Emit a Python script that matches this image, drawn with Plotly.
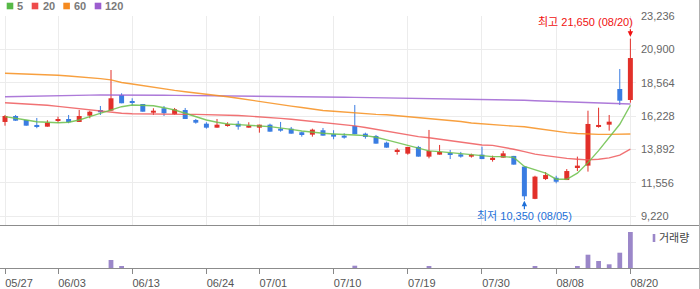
import plotly.graph_objects as go

# ---------------- data ----------------
dates = ["05/27", "05/28", "05/29", "05/30", "05/31", "06/03", "06/04", "06/05", "06/07", "06/10",
         "06/11", "06/12", "06/13", "06/14", "06/17", "06/18", "06/19", "06/20", "06/21", "06/24",
         "06/25", "06/26", "06/27", "06/28", "07/01", "07/02", "07/03", "07/04", "07/05", "07/08",
         "07/09", "07/10", "07/11", "07/12", "07/15", "07/16", "07/17", "07/18", "07/19", "07/22",
         "07/23", "07/24", "07/25", "07/26", "07/29", "07/30", "07/31", "08/01", "08/02", "08/05",
         "08/06", "08/07", "08/08", "08/09", "08/12", "08/13", "08/14", "08/16", "08/19", "08/20"]

opens = [15810, 16230, 15950, 15600, 15480, 15900, 16020, 15810, 16250, 16650,
         16600, 17700, 17230, 17070, 16460, 16770, 16350, 16650, 15950, 15690,
         15410, 15550, 15690, 15410, 15410, 15620, 15340, 15340, 15090, 14920,
         15230, 14950, 14850, 15530, 14990, 14830, 14360, 13770, 13590, 14060,
         13380, 13520, 13610, 13540, 13380, 13520, 13210, 13310, 13430, 12680,
         10420, 11810, 11900, 11740, 12610, 12750, 15460, 15620, 18120, 17350]
highs = [16300, 16300, 15950, 16090, 15930, 16180, 16300, 16650, 16600, 16930,
         19450, 17820, 17470, 17070, 16770, 16930, 16790, 16790, 16020, 15790,
         16020, 15790, 15880, 15790, 15620, 15690, 15810, 15460, 15130, 15340,
         15390, 15230, 15020, 17000, 15060, 14900, 14430, 13960, 14060, 14130,
         15250, 14200, 13850, 13710, 13590, 14080, 13450, 13780, 13430, 12680,
         12040, 12300, 12040, 12510, 13380, 16600, 16810, 16300, 19520, 21650]
lows = [15550, 15880, 15550, 15370, 15480, 15760, 15720, 15810, 16070, 16300,
        16600, 17120, 16950, 16530, 16300, 16230, 16300, 16020, 15690, 15340,
        15410, 15480, 15270, 15410, 15060, 15130, 15130, 14990, 14780, 14780,
        14850, 14600, 14640, 14950, 14640, 14290, 14010, 13520, 13520, 13380,
        13260, 13520, 13210, 13310, 13310, 13210, 13030, 13310, 12820, 10350,
        10400, 11740, 11510, 11740, 12370, 12330, 15410, 15200, 17000, 17160]
closes = [16230, 15900, 15550, 15500, 15760, 16020, 15790, 16230, 16530, 16490,
          17470, 17120, 17140, 16530, 16600, 16420, 16700, 16020, 15760, 15410,
          15620, 15640, 15480, 15550, 15620, 15130, 15200, 14990, 14950, 15270,
          14850, 14780, 14710, 14950, 14760, 14290, 14010, 13860, 14060, 13380,
          13780, 13710, 13520, 13380, 13520, 13210, 13300, 13610, 12820, 10600,
          11980, 12090, 11620, 12370, 12750, 15670, 15600, 15830, 17300, 20290]
volumes = [0, 0, 0, 0, 0, 0, 0, 0, 0, 0,
           8000, 1300, 0, 0, 0, 0, 0, 0, 0, 0,
           0, 0, 0, 0, 0, 0, 0, 0, 0, 0,
           0, 0, 0, 2300, 0, 0, 0, 0, 0, 0,
           1300, 0, 0, 0, 0, 0, 0, 0, 0, 0,
           1300, 0, 0, 0, 1300, 13300, 7000, 3700, 15300, 36000]

ma5 = [16180, 16090, 15950, 15830, 15790, 15760, 15790, 15950, 16180, 16420,
       16650, 16880, 17000, 17000, 16950, 16810, 16650, 16420, 16180, 15950,
       15790, 15670, 15620, 15550, 15530, 15480, 15410, 15290, 15180, 15090,
       15020, 14970, 14950, 14900, 14850, 14740, 14550, 14360, 14200, 13960,
       13780, 13730, 13660, 13610, 13500, 13430, 13380, 13380, 13330, 12690,
       12450, 12220, 11800, 11790, 12220, 12960, 13800, 14700, 15650, 16980]
ma20 = [17160, 17120, 17080, 17030, 16980, 16900, 16820, 16740, 16660, 16570,
        16480, 16420, 16390, 16370, 16355, 16346, 16340, 16340, 16340, 16330,
        16310, 16290, 16260, 16220, 16180, 16120, 16060, 16000, 15930, 15850,
        15780, 15700, 15620, 15540, 15420, 15290, 15170, 15040, 14900, 14780,
        14700, 14600, 14480, 14380, 14280, 14200, 14170, 14050, 13900, 13730,
        13560, 13450, 13330, 13260, 13200, 13150, 13200, 13290, 13480, 13900]
ma60 = [19220, 19200, 19180, 19150, 19125, 19080, 19030, 18980, 18920, 18850,
        18760, 18580, 18470, 18350, 18220, 18100, 18020, 17930, 17850, 17770,
        17690, 17580, 17470, 17350, 17230, 17130, 17030, 16920, 16820, 16710,
        16610, 16560, 16500, 16440, 16390, 16340, 16315, 16250, 16185, 16120,
        16050, 15980, 15910, 15840, 15740, 15670, 15620, 15570, 15520, 15475,
        15370, 15250, 15140, 15060, 15000, 14950, 14940, 14940, 14950, 14966]
ma120 = [17580, 17600, 17620, 17635, 17650, 17665, 17675, 17685, 17690, 17695,
         17700, 17700, 17695, 17690, 17685, 17680, 17675, 17670, 17665, 17660,
         17655, 17650, 17645, 17640, 17630, 17620, 17610, 17600, 17590, 17580,
         17570, 17555, 17545, 17535, 17525, 17515, 17505, 17495, 17485, 17475,
         17465, 17455, 17445, 17435, 17425, 17415, 17400, 17380, 17360, 17330,
         17300, 17270, 17240, 17210, 17180, 17150, 17120, 17100, 17085, 17070]

price_ticks = [9220, 11556, 13892, 16228, 18564, 20900, 23236]
date_ticks = ["05/27", "06/03", "06/13", "06/24", "07/01", "07/10", "07/19", "07/30", "08/08", "08/20"]
ma_names = ["5", "20", "60", "120"]

# ---------------- styling ----------------
W, H = 700, 289
UP, DOWN = "#e2302a", "#3a7de2"
MA_COLORS = ["#6cc04a", "#ef5a5c", "#f7901e", "#9f63d3"]
LEG_COLORS = ["#57b947", "#ee4b4b", "#f58a1f", "#9c5dcf"]
VOL_COLOR = "#9b87c9"
FONT = "Liberation Sans, Noto Sans CJK KR, sans-serif"


def px(x):
    return x / W


def py(y):
    return 1 - y / H


fig = go.Figure()

# wicks
for col, cond in ((UP, lambda o, c: c >= o), (DOWN, lambda o, c: c < o)):
    wx, wy = [], []
    for d, o, h, l, c in zip(dates, opens, highs, lows, closes):
        if cond(o, c):
            wx += [d, d, None]
            wy += [l, h, None]
    fig.add_trace(go.Scatter(x=wx, y=wy, mode="lines", line=dict(color=col, width=1),
                             hoverinfo="skip", showlegend=False, xaxis="x", yaxis="y"))

# bodies
fig.add_trace(go.Bar(
    x=dates,
    y=[max(abs(c - o), 70) for o, c in zip(opens, closes)],
    base=[min(o, c) for o, c in zip(opens, closes)],
    width=0.47,
    marker=dict(color=[UP if c >= o else DOWN for o, c in zip(opens, closes)], line=dict(width=0)),
    showlegend=False, xaxis="x", yaxis="y"))

# moving averages
for vals, col in zip([ma120, ma60, ma20, ma5], [MA_COLORS[3], MA_COLORS[2], MA_COLORS[1], MA_COLORS[0]]):
    fig.add_trace(go.Scatter(x=dates, y=vals, mode="lines", line=dict(color=col, width=1.4),
                             opacity=0.85, hoverinfo="skip", showlegend=False, xaxis="x", yaxis="y"))

# volume
fig.add_trace(go.Bar(x=dates, y=volumes, width=0.45, marker=dict(color=VOL_COLOR, line=dict(width=0)),
                     showlegend=False, xaxis="x2", yaxis="y2"))

x_dom = [0, px(636)]
x_range = [-0.472, 59.53]

fig.update_layout(
    width=W, height=H,
    margin=dict(l=0, r=0, t=0, b=0, autoexpand=False),
    paper_bgcolor="white", plot_bgcolor="white",
    barmode="overlay",
    font=dict(family=FONT, size=11, color="#666"),
    xaxis=dict(domain=x_dom, anchor="y", type="category", range=x_range,
               categoryorder="array", categoryarray=dates, automargin=False,
               tickvals=date_ticks, showticklabels=False, ticks="",
               showgrid=True, gridcolor="#ececec", gridwidth=1, zeroline=False, showline=False),
    xaxis2=dict(domain=x_dom, anchor="y2", type="category", range=x_range, matches="x",
                categoryorder="array", categoryarray=dates, automargin=False,
                tickvals=date_ticks, ticktext=date_ticks, ticks="outside", ticklen=5,
                tickcolor="#888", tickwidth=1, showgrid=False, zeroline=False, showline=False,
                tickangle=0, tickfont=dict(size=11, color="#555"), ticklabelshift=14),
    yaxis=dict(domain=[py(225), py(16)], anchor="x", side="right", range=[8589, 23236],
               tickvals=price_ticks, ticktext=[f"{v:,}" for v in price_ticks], automargin=False,
               showgrid=True, gridcolor="#ececec", gridwidth=1, zeroline=False, showline=False,
               ticks="", tickfont=dict(size=11, color="#666"), ticklabelstandoff=4),
    yaxis2=dict(domain=[py(268), py(225)], anchor="x2", range=[0, 43000], automargin=False,
                showgrid=False, showticklabels=False, zeroline=False, showline=False, ticks=""),
)

shapes = [
    dict(type="line", xref="paper", yref="paper", x0=0, x1=1, y0=py(225.5), y1=py(225.5),
         line=dict(color="#8c8c8c", width=1)),
    dict(type="line", xref="paper", yref="paper", x0=0, x1=1, y0=py(268.5), y1=py(268.5),
         line=dict(color="#8c8c8c", width=1)),
    dict(type="line", xref="paper", yref="paper", x0=px(699.5), x1=px(699.5), y0=0, y1=1,
         line=dict(color="#b0b0b0", width=1)),
    # volume legend marker
    dict(type="rect", xref="paper", yref="paper", x0=px(652.7), x1=px(655.3), y0=py(242), y1=py(234),
         fillcolor=VOL_COLOR, line=dict(width=0)),
]

annotations = []
sq_left = [6.7, 31.7, 63.3, 94.7]
txt_left = [16, 41.7, 72.7, 104.3]
for name, col, sx, tx in zip(ma_names, LEG_COLORS, sq_left, txt_left):
    shapes.append(dict(type="rect", xref="paper", yref="paper", x0=px(sx), x1=px(sx + 6.6),
                       y0=py(9.3), y1=py(2.7), fillcolor=col, line=dict(width=0)))
    annotations.append(dict(text=f"<b>{name}</b>", xref="paper", yref="paper", x=px(tx - 1), y=py(6),
                            xanchor="left", yanchor="middle", showarrow=False,
                            font=dict(size=11, color="#7a7a7a", family=FONT)))

annotations.append(dict(text="거래량", xref="paper", yref="paper", x=px(657), y=py(238),
                        xanchor="left", yanchor="middle", showarrow=False,
                        font=dict(size=11, color="#444", family=FONT)))

# high / low markers
hi_idx = max(range(len(highs)), key=lambda i: highs[i])
lo_idx = min(range(len(lows)), key=lambda i: lows[i])
HI_COL, LO_COL = "#f01010", "#1d6fd8"

annotations.append(dict(text=f"최고 {highs[hi_idx]:,} ({dates[hi_idx]})", xref="x", yref="paper",
                        x=dates[hi_idx], y=py(21.5), xanchor="right", yanchor="middle", xshift=5,
                        showarrow=False, font=dict(size=11, color=HI_COL, family=FONT)))
annotations.append(dict(text="", xref="x", yref="y", x=dates[hi_idx], y=highs[hi_idx],
                        showarrow=True, arrowhead=2, arrowsize=0.9, arrowwidth=1.2, arrowcolor=HI_COL,
                        ax=0, ay=-11, standoff=2))
annotations.append(dict(text=f"최저 {lows[lo_idx]:,} ({dates[lo_idx]})", xref="x", yref="paper",
                        x=dates[lo_idx], y=py(216), xanchor="center", yanchor="middle",
                        showarrow=False, font=dict(size=11, color=LO_COL, family=FONT)))
annotations.append(dict(text="", xref="x", yref="y", x=dates[lo_idx], y=lows[lo_idx],
                        showarrow=True, arrowhead=2, arrowsize=0.9, arrowwidth=1.2, arrowcolor=LO_COL,
                        ax=0, ay=11, standoff=1))

fig.update_layout(shapes=shapes, annotations=annotations)

fig.write_html("out.html")
